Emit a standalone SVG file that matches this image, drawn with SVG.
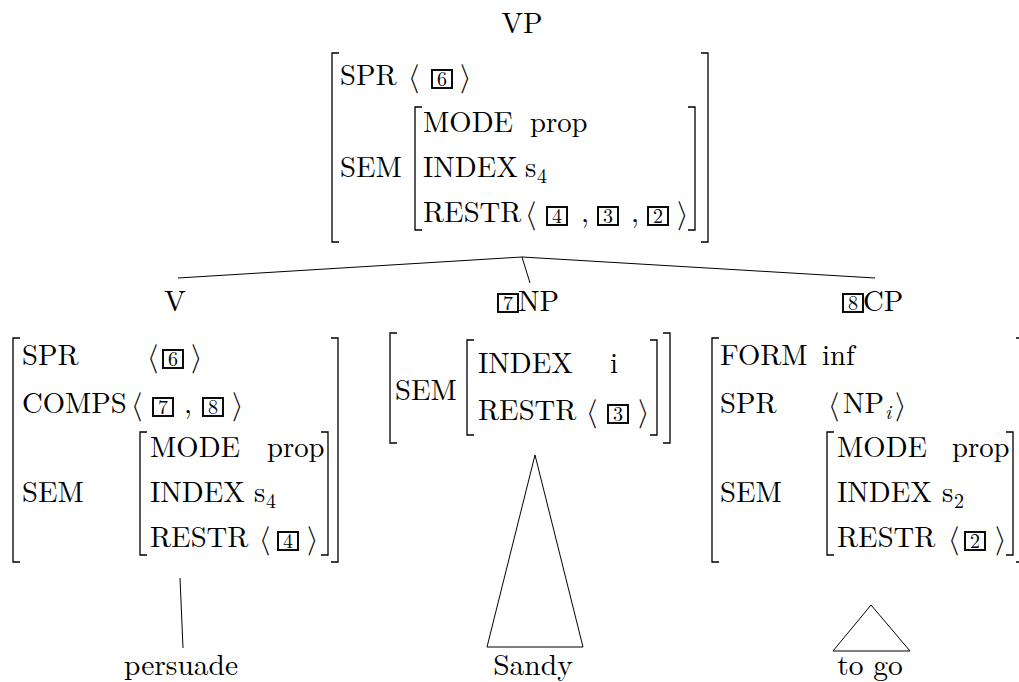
<svg xmlns="http://www.w3.org/2000/svg" width="1019" height="682" viewBox="0 0 1019 682">
<style>
text { font-family: "Latin Modern Roman", "Liberation Serif", serif; font-size: 28.7px; fill: #000; }
.ang { font-family: "Latin Modern Math", "DejaVu Serif", serif; font-size: 29px; }
.sub { font-size: 20px; }
.dig { font-size: 20px; text-anchor: middle; }
.mid { text-anchor: middle; }
.leaf { font-size: 29.5px; text-anchor: middle; }
.box { fill: none; stroke: #000; stroke-width: 1.9; }
.br { fill: none; stroke: #000; stroke-width: 1.3; }
.ln { fill: none; stroke: #000; stroke-width: 1; }
</style>
<rect width="1019" height="682" fill="#fff"/>

<g id="connectors">
  <line class="ln" x1="522" y1="257" x2="178" y2="278"/>
  <line class="ln" x1="522" y1="257" x2="530" y2="283"/>
  <line class="ln" x1="522" y1="257" x2="875" y2="278"/>
  <line class="ln" x1="180" y1="578" x2="183" y2="648"/>
  <polygon class="ln" points="535,455 487,647 583,647"/>
  <polygon class="ln" points="871,605 833,651 910,651"/>
</g>

<g id="n-VP">
  <text class="mid" x="522" y="33">VP</text>
  <path class="br" d="M339,53 H332 V242 H339"/>
  <path class="br" d="M701,53 H708 V242 H701"/>
  <text x="340" y="85">SPR</text>
  <text class="ang" x="408" y="86">⟨</text>
  <rect class="box" x="432" y="70" width="20" height="18"/>
  <text class="dig" x="442" y="85.5">6</text>
  <text class="ang" x="460" y="86">⟩</text>
  <text x="340" y="177">SEM</text>
  <path class="br" d="M422,107 H415 V230 H422"/>
  <path class="br" d="M688,107 H695 V230 H688"/>
  <text x="423" y="132">MODE</text>
  <text x="530" y="132">prop</text>
  <text x="423" y="177">INDEX</text>
  <text x="525" y="177">s</text>
  <text class="sub" x="537" y="183">4</text>
  <text x="423" y="222">RESTR</text>
  <text class="ang" x="525" y="223">⟨</text>
  <rect class="box" x="547" y="207" width="20" height="18"/>
  <text class="dig" x="557" y="222.5">4</text>
  <text x="581" y="222">,</text>
  <rect class="box" x="598" y="207" width="20" height="18"/>
  <text class="dig" x="608" y="222.5">3</text>
  <text x="631" y="222">,</text>
  <rect class="box" x="648" y="207" width="20" height="18"/>
  <text class="dig" x="658" y="222.5">2</text>
  <text class="ang" x="677" y="223">⟩</text>
</g>

<g id="n-V">
  <text class="mid" x="175" y="311">V</text>
  <path class="br" d="M20,338 H13 V562 H20"/>
  <path class="br" d="M331,338 H338 V562 H331"/>
  <text x="22" y="365">SPR</text>
  <text class="ang" x="147" y="366">⟨</text>
  <rect class="box" x="163" y="350" width="20" height="18"/>
  <text class="dig" x="173" y="365.5">6</text>
  <text class="ang" x="191" y="366">⟩</text>
  <text x="22" y="413">COMPS</text>
  <text class="ang" x="131" y="414">⟨</text>
  <rect class="box" x="153" y="398" width="20" height="18"/>
  <text class="dig" x="163" y="413.5">7</text>
  <text x="184" y="413">,</text>
  <rect class="box" x="203" y="398" width="20" height="18"/>
  <text class="dig" x="213" y="413.5">8</text>
  <text class="ang" x="232" y="414">⟩</text>
  <text x="22" y="502">SEM</text>
  <path class="br" d="M147,432 H140 V555 H147"/>
  <path class="br" d="M321,432 H328 V555 H321"/>
  <text x="150" y="457">MODE</text>
  <text x="267" y="457">prop</text>
  <text x="150" y="502">INDEX</text>
  <text x="254" y="502">s</text>
  <text class="sub" x="266" y="508">4</text>
  <text x="150" y="547">RESTR</text>
  <text class="ang" x="259" y="548">⟨</text>
  <rect class="box" x="278" y="532" width="20" height="18"/>
  <text class="dig" x="288" y="547.5">4</text>
  <text class="ang" x="307" y="548">⟩</text>
</g>

<g id="n-NP">
  <rect class="box" x="498" y="294" width="20" height="18"/>
  <text class="dig" x="508" y="309.5">7</text>
  <text x="518" y="311">NP</text>
  <path class="br" d="M397,333 H390 V443 H397"/>
  <path class="br" d="M663,333 H670 V443 H663"/>
  <text x="395" y="400">SEM</text>
  <path class="br" d="M474,340 H467 V435 H474"/>
  <path class="br" d="M650,340 H657 V435 H650"/>
  <text x="478" y="373">INDEX</text>
  <text x="610" y="373">i</text>
  <text x="478" y="420">RESTR</text>
  <text class="ang" x="586" y="421">⟨</text>
  <rect class="box" x="608" y="405" width="20" height="18"/>
  <text class="dig" x="618" y="420.5">3</text>
  <text class="ang" x="638" y="421">⟩</text>
</g>

<g id="n-CP">
  <rect class="box" x="843" y="294" width="20" height="18"/>
  <text class="dig" x="853" y="309.5">8</text>
  <text x="863" y="311">CP</text>
  <path class="br" d="M719,338 H712 V562 H719"/>
  <path class="br" d="M1016,338 H1021 V562 H1016"/>
  <text x="720" y="365">FORM</text>
  <text x="822" y="365">inf</text>
  <text x="720" y="413">SPR</text>
  <text class="ang" x="828" y="414">⟨</text>
  <text x="843" y="413">NP</text>
  <text class="sub" x="885" y="419" font-style="italic">i</text>
  <text class="ang" x="895" y="414">⟩</text>
  <text x="720" y="502">SEM</text>
  <path class="br" d="M834,432 H827 V555 H834"/>
  <path class="br" d="M1006,432 H1013 V555 H1006"/>
  <text x="837" y="457">MODE</text>
  <text x="952" y="457">prop</text>
  <text x="837" y="502">INDEX</text>
  <text x="942" y="502">s</text>
  <text class="sub" x="954" y="508">2</text>
  <text x="837" y="547">RESTR</text>
  <text class="ang" x="948" y="548">⟨</text>
  <rect class="box" x="965" y="532" width="20" height="18"/>
  <text class="dig" x="975" y="547.5">2</text>
  <text class="ang" x="995" y="548">⟩</text>
</g>

<g id="n-persuade">
  <text class="leaf" x="181" y="675">persuade</text>
</g>
<g id="n-Sandy">
  <text class="leaf" x="533" y="675">Sandy</text>
</g>
<g id="n-togo">
  <text class="leaf" x="870" y="675">to go</text>
</g>
</svg>
